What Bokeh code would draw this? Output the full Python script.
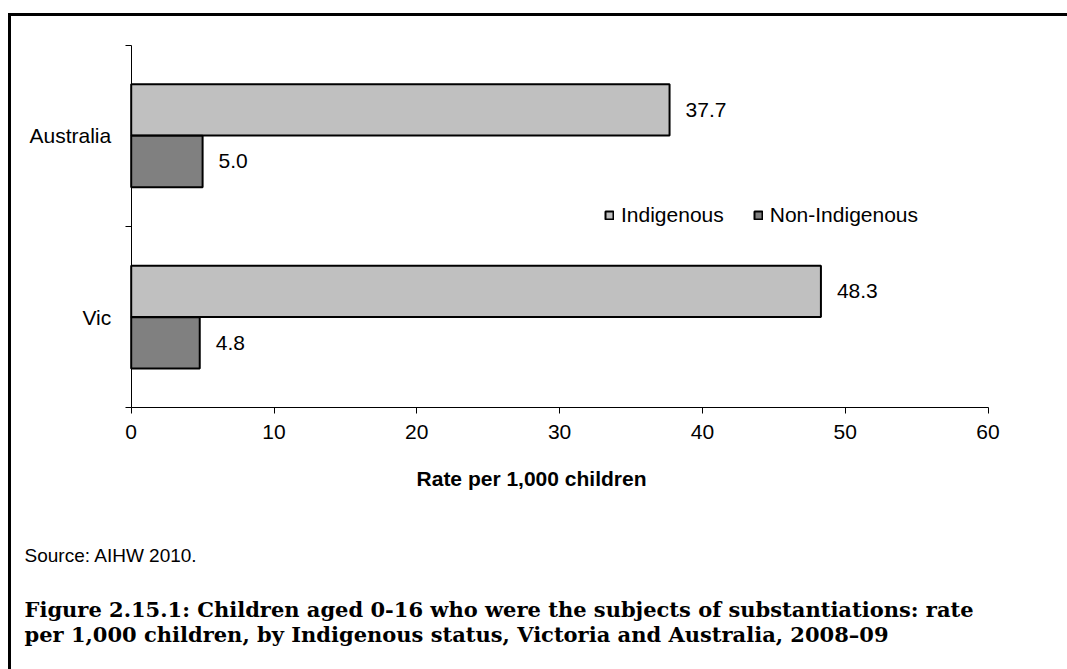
from bokeh.plotting import figure
from bokeh.models import (ColumnDataSource, Range1d, FixedTicker, Label, BoxAnnotation,
                          Legend, LegendItem)
from bokeh.core.properties import value
from bokeh.embed import file_html
from bokeh.resources import INLINE

# ---- data ----
categories = ["Vic", "Australia"]          # bottom to top
series = ["Indigenous", "Non-Indigenous"]
indigenous = [48.3, 37.7]
non_indigenous = [4.8, 5.0]
x_ticks = [0, 10, 20, 30, 40, 50, 60]
x_title = "Rate per 1,000 children"
source_note = "Source:  AIHW 2010."
caption_1 = "Figure 2.15.1: Children aged 0-16 who were the subjects of substantiations: rate"
caption_2 = "per 1,000 children, by Indigenous status, Victoria and Australia, 2008\u201309"

FONT = "Liberation Sans"
W, H = 1067, 669
# pixel layout of the plotting area inside the canvas
AX_L, AX_R, AX_T, AX_B = 130.7, 987.5, 44.5, 407.3
XMAX = x_ticks[-1]
NCAT = len(categories)
kx = (AX_R - AX_L) / XMAX
ky = (AX_B - AX_T) / NCAT
x_range = Range1d(-AX_L / kx, (W - AX_L) / kx)
y_range = Range1d(-(H - AX_B) / ky, NCAT + AX_T / ky)

p = figure(width=W, height=H, output_backend="svg", toolbar_location=None,
           x_range=x_range, y_range=y_range, min_border=0)
p.outline_line_color = None
p.grid.visible = False
p.background_fill_color = "white"
p.border_fill_color = "white"

centers = [i + 0.5 for i in range(NCAT)]
off, bh = 0.142, 0.283
src_i = ColumnDataSource(dict(y=[c + off for c in centers], x=indigenous,
                              lab=[f"{v:.1f}" for v in indigenous]))
src_n = ColumnDataSource(dict(y=[c - off for c in centers], x=non_indigenous,
                              lab=[f"{v:.1f}" for v in non_indigenous]))

r_i = p.hbar(y="y", right="x", left=0, height=bh, source=src_i,
             fill_color="#C0C0C0", line_color="black", line_width=2)
r_n = p.hbar(y="y", right="x", left=0, height=bh, source=src_n,
             fill_color="#808080", line_color="black", line_width=2)

for s in (src_i, src_n):
    p.text(x="x", y="y", text="lab", source=s, x_offset=16,
           text_font=value(FONT), text_font_size="21px", text_color="black",
           text_baseline="middle", text_align="left")

# x axis
xa = p.xaxis[0]
xa.fixed_location = 0
xa.bounds = (0, XMAX)
xa.ticker = FixedTicker(ticks=x_ticks, minor_ticks=[])
xa.major_tick_out = 6
xa.major_tick_in = 0
xa.minor_tick_out = 0
xa.minor_tick_in = 0
xa.axis_line_color = "black"
xa.major_tick_line_color = "black"
xa.major_label_text_font = FONT
xa.major_label_text_font_size = "21px"
xa.major_label_text_color = "black"
xa.major_label_standoff = 11

# y axis: labels centred in bands, ticks at band boundaries
ya = p.yaxis[0]
ya.fixed_location = 0
ya.bounds = (0, NCAT)
ya.ticker = FixedTicker(ticks=centers, minor_ticks=list(range(NCAT + 1)))
ya.major_label_overrides = {c: categories[i] for i, c in enumerate(centers)}
ya.major_tick_out = 0
ya.major_tick_in = 0
ya.minor_tick_out = 6
ya.minor_tick_in = 0
ya.minor_tick_line_color = "black"
ya.axis_line_color = "black"
ya.major_label_text_font = FONT
ya.major_label_text_font_size = "21px"
ya.major_label_text_color = "black"
ya.major_label_standoff = 14

# legend (screen position measured from bottom-left of canvas)
legend = Legend(items=[LegendItem(label=series[0], renderers=[r_i]),
                       LegendItem(label=series[1], renderers=[r_n])],
                orientation="horizontal", location=(604, H - AX_B + 180),
                glyph_width=10, glyph_height=10, label_standoff=7, spacing=29,
                padding=0, margin=0, border_line_color=None, background_fill_alpha=0,
                label_text_font=FONT, label_text_font_size="21px", label_text_color="black")
p.add_layout(legend, "center")

def lab(text, x, y_page, **kw):
    p.add_layout(Label(x=x, y=H - y_page, x_units="screen", y_units="screen",
                       text=text, text_color="black", **kw))

# axis title
lab(x_title, 531, 478, text_font=FONT, text_font_size="21px", text_font_style="bold",
    text_align="center", text_baseline="middle")
# source
lab(source_note, 24, 555, text_font=FONT, text_font_size="19px", text_baseline="middle")
# caption
lab(caption_1, 24, 609, text_font="DejaVu Serif", text_font_size="21px",
    text_font_style="bold", text_baseline="middle")
lab(caption_2, 24, 634, text_font="DejaVu Serif", text_font_size="21px",
    text_font_style="bold", text_baseline="middle")

# frame lines (top and left)
p.add_layout(BoxAnnotation(left=7.5, right=10.5, top=H - 12.5, bottom=0,
                           left_units="screen", right_units="screen",
                           top_units="screen", bottom_units="screen",
                           fill_color="black", fill_alpha=1, line_color=None))
p.add_layout(BoxAnnotation(left=7.5, right=W, top=H - 12.5, bottom=H - 15.5,
                           left_units="screen", right_units="screen",
                           top_units="screen", bottom_units="screen",
                           fill_color="black", fill_alpha=1, line_color=None))

open("out.html", "w").write(file_html(p, INLINE))
